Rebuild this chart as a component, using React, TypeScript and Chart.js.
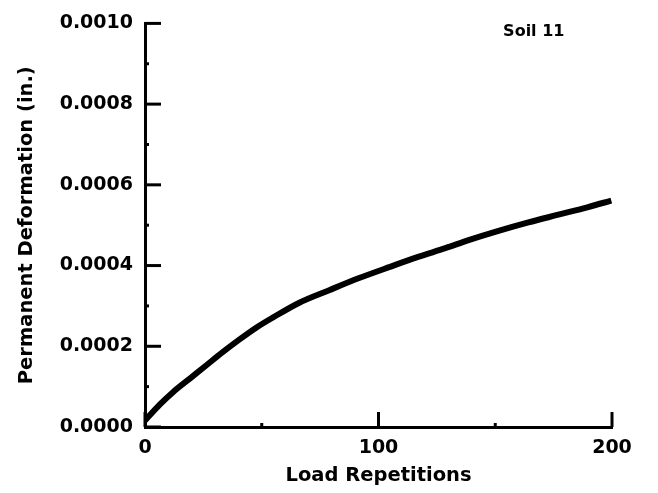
import React, { useEffect, useRef } from "react";
import { Chart, registerables } from "chart.js";

Chart.register(...registerables);

const loadRepetitions = [0, 6.4, 12.1, 19.2, 26.3, 33.4, 40.5, 47.6, 54.7, 66.1, 78.9, 91.7, 104.5, 117.3, 128.6, 138.6, 151.4, 164.2, 177, 189.8, 199.7];
const deformation = [0.000016, 0.000056, 0.000087, 0.00012, 0.000153, 0.000186, 0.000217, 0.000246, 0.000271, 0.000308, 0.000339, 0.000369, 0.000396, 0.000422, 0.000443, 0.000463, 0.000486, 0.000507, 0.000526, 0.000545, 0.000561];
const yMinorTicks = [0.0001, 0.0003, 0.0005, 0.0007, 0.0009];
const xMinorTicks = [50, 150];
const annotationText = "Soil 11";

const FONT = "'DejaVu Sans', sans-serif";

export default function App() {
  const ref = useRef<HTMLCanvasElement | null>(null);
  useEffect(() => {
    if (!ref.current) return;
    const tickPlugin = {
      id: "inwardTicks",
      afterDraw(chart: any) {
        const ctx = chart.ctx;
        const xs = chart.scales.x;
        const ys = chart.scales.y;
        const { left, bottom } = chart.chartArea;
        ctx.save();
        ctx.strokeStyle = "#000";
        ctx.lineCap = "butt";
        ctx.lineWidth = 3;
        ys.ticks.forEach((t: any) => {
          const y = ys.getPixelForValue(t.value);
          ctx.beginPath();
          ctx.moveTo(left, y);
          ctx.lineTo(left + 16, y);
          ctx.stroke();
        });
        yMinorTicks.forEach((v) => {
          const y = ys.getPixelForValue(v);
          ctx.beginPath();
          ctx.moveTo(left, y);
          ctx.lineTo(left + 4, y);
          ctx.stroke();
        });
        xs.ticks.forEach((t: any) => {
          const x = xs.getPixelForValue(t.value);
          ctx.beginPath();
          ctx.moveTo(x, bottom);
          ctx.lineTo(x, bottom - 15);
          ctx.stroke();
        });
        xMinorTicks.forEach((v) => {
          const x = xs.getPixelForValue(v);
          ctx.beginPath();
          ctx.moveTo(x, bottom);
          ctx.lineTo(x, bottom - 4);
          ctx.stroke();
        });
        ctx.fillStyle = "#000";
        ctx.font = `bold 16px ${FONT}`;
        ctx.textAlign = "center";
        ctx.textBaseline = "middle";
        ctx.fillText(annotationText, xs.getPixelForValue(166.5), ys.getPixelForValue(0.000978));
        ctx.restore();
      },
    };
    const chart = new Chart(ref.current, {
      type: "line",
      data: {
        datasets: [
          {
            data: loadRepetitions.map((x, i) => ({ x, y: deformation[i] })),
            borderColor: "#000",
            borderWidth: 6,
            pointRadius: 0,
            cubicInterpolationMode: "monotone",
            fill: false,
          },
        ],
      },
      options: {
        animation: false,
        responsive: true,
        maintainAspectRatio: false,
        layout: { padding: { left: 0, top: 20, right: 46, bottom: 0 } },
        plugins: { legend: { display: false }, tooltip: { enabled: false } },
        scales: {
          x: {
            type: "linear",
            min: 0,
            max: 200,
            grid: { display: false, drawTicks: false },
            border: { display: true, color: "#000", width: 3 },
            ticks: {
              stepSize: 100,
              padding: 10,
              color: "#000",
              font: { family: FONT, size: 19, weight: "bold" },
            },
            title: {
              display: true,
              text: "Load Repetitions",
              color: "#000",
              font: { family: FONT, size: 19.5, weight: "bold" },
              padding: { top: 0, bottom: 5 },
            },
            afterFit(scale: any) {
              scale.height = 66;
            },
          },
          y: {
            type: "linear",
            min: 0,
            max: 0.001,
            grid: { display: false, drawTicks: false },
            border: { display: true, color: "#000", width: 3 },
            ticks: {
              stepSize: 0.0002,
              padding: 12,
              color: "#000",
              font: { family: FONT, size: 19, weight: "bold" },
              callback: (v: any) => Number(v).toFixed(4),
            },
            title: {
              display: true,
              text: "Permanent Deformation (in.)",
              color: "#000",
              font: { family: FONT, size: 19.5, weight: "bold" },
              padding: { top: 15, bottom: 0 },
            },
            afterFit(scale: any) {
              scale.width = 145;
            },
          },
        },
      },
      plugins: [tickPlugin],
    });
    return () => chart.destroy();
  }, []);
  return (
    <div style={{ position: "fixed", left: 0, top: 0, width: 658, height: 493, background: "#fff" }}>
      <canvas ref={ref} />
    </div>
  );
}
